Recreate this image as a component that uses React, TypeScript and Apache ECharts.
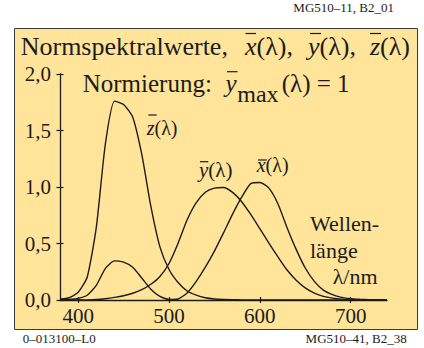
import React, { useEffect, useRef } from "react";
import * as echarts from "echarts";

const wavelengths = [380, 390, 400, 410, 420, 430, 440, 450, 460, 470, 480, 490, 500, 510, 520, 530, 540, 550, 560, 570, 580, 590, 600, 610, 620, 630, 640, 650, 660, 670, 680, 690, 700, 710, 720, 730, 740];
const xBarValues = [0.0014, 0.004, 0.014, 0.042, 0.13, 0.28, 0.346, 0.335, 0.29, 0.195, 0.096, 0.032, 0.005, 0.009, 0.063, 0.165, 0.29, 0.433, 0.594, 0.76, 0.91, 1.03, 1.04, 0.99, 0.85, 0.64, 0.448, 0.283, 0.165, 0.087, 0.047, 0.023, 0.011, 0.006, 0.003, 0.0014, 0.0007];
const yBarValues = [0, 0.0001, 0.0004, 0.0012, 0.004, 0.0116, 0.023, 0.038, 0.06, 0.091, 0.139, 0.208, 0.323, 0.503, 0.71, 0.862, 0.954, 0.99, 0.995, 0.952, 0.87, 0.757, 0.631, 0.503, 0.381, 0.265, 0.175, 0.107, 0.061, 0.032, 0.017, 0.0082, 0.0041, 0.0021, 0.001, 0.0005, 0.0002];
const zBarValues = [0.0065, 0.02, 0.068, 0.204, 0.645, 1.385, 1.76, 1.73, 1.62, 1.29, 0.83, 0.47, 0.27, 0.155, 0.08, 0.043, 0.02, 0.009, 0.004, 0.002, 0.0015, 0.001, 0.001, 0, 0, 0, 0, 0, 0, 0, 0, 0, 0, 0, 0, 0, 0];
const xTickValues = [400, 500, 600, 700];
const yMin = 0;
const yMax = 2;
const yStep = 0.5;

const FONT = "Liberation Serif, Times New Roman, serif";
const INK = "#1c1c1c";

function textAt(x: number, baseline: number, size: number, text: string, italicSize?: number, align: string = "left") {
  const style: any = {
    text,
    fontSize: size,
    fontFamily: FONT,
    fill: INK,
    textAlign: align,
    textVerticalAlign: "middle",
  };
  if (italicSize) {
    style.rich = { i: { fontSize: italicSize, fontFamily: FONT, fontStyle: "italic", fill: INK } };
  }
  return { type: "text", x, y: baseline - 0.3375 * size, z: 20, style };
}

function bar(x1: number, x2: number, y: number) {
  return { type: "line", z: 20, shape: { x1, y1: y, x2, y2: y }, style: { stroke: INK, lineWidth: 1.2 } };
}

export default function App() {
  const ref = useRef<HTMLDivElement>(null);
  useEffect(() => {
    if (!ref.current) return;
    const chart = echarts.init(ref.current, undefined, { renderer: "svg" });
    const mk = (vals: number[]) => wavelengths.map((w, i) => [w, vals[i]]);
    const lineStyle = { color: INK, width: 1.4 };
    const axisCommon = { min: 380, max: 740 };
    chart.setOption({
      animation: false,
      backgroundColor: "#ffffff",
      grid: { left: 60, right: 37, top: 74, bottom: 48 },
      xAxis: [
        {
          type: "value",
          ...axisCommon,
          position: "bottom",
          splitLine: { show: false },
          axisLine: { show: true, lineStyle: { color: INK, width: 1.3 } },
          axisTick: { show: true, length: 3, inside: false, customValues: xTickValues, lineStyle: { color: INK, width: 1.2 } },
          axisLabel: { show: true, customValues: xTickValues, margin: 5, color: INK, fontSize: 21, fontFamily: FONT },
        },
        {
          type: "value",
          ...axisCommon,
          position: "bottom",
          splitLine: { show: false },
          axisLine: { show: false },
          axisTick: { show: true, length: 3, inside: true, customValues: xTickValues, lineStyle: { color: INK, width: 1.2 } },
          axisLabel: { show: false },
        },
      ],
      yAxis: [
        {
          type: "value",
          min: yMin,
          max: yMax,
          interval: yStep,
          position: "left",
          splitLine: { show: false },
          axisLine: { show: true, lineStyle: { color: INK, width: 1.3 } },
          axisTick: { show: true, length: 3.5, inside: false, lineStyle: { color: INK, width: 1.2 } },
          axisLabel: {
            margin: 9,
            color: INK,
            fontSize: 21,
            fontFamily: FONT,
            formatter: (v: number) => v.toFixed(1).replace(".", ","),
          },
        },
        {
          type: "value",
          min: yMin,
          max: yMax,
          interval: yStep,
          position: "left",
          splitLine: { show: false },
          axisLine: { show: false },
          axisTick: { show: true, length: 3.5, inside: true, lineStyle: { color: INK, width: 1.2 } },
          axisLabel: { show: false },
        },
      ],
      series: [
        { type: "line", name: "z", data: mk(zBarValues), showSymbol: false, symbol: "none", smooth: 0.2, lineStyle, z: 3 },
        { type: "line", name: "x", data: mk(xBarValues), showSymbol: false, symbol: "none", smooth: 0.2, lineStyle, z: 3 },
        { type: "line", name: "y", data: mk(yBarValues), showSymbol: false, symbol: "none", smooth: 0.2, lineStyle, z: 3 },
      ],
      graphic: [
        {
          type: "rect",
          z: -10,
          shape: { x: 14.5, y: 28.5, width: 403, height: 301 },
          style: { fill: "#FFE49A", stroke: "#3a3a3a", lineWidth: 1 },
        },
        textAt(394, 12, 13, "MG510–11, B2_01", undefined, "right"),
        textAt(22.7, 343, 13, "0–013100–L0"),
        textAt(406.7, 343, 13, "MG510–41, B2_38", undefined, "right"),
        // title
        textAt(20.7, 55, 26, "Normspektralwerte,"),
        textAt(245, 55, 26, "{i|x}(λ),", 26),
        bar(245.5, 256, 33.5),
        textAt(308, 55, 26, "{i|y}(λ),", 26),
        bar(310, 321, 33.5),
        textAt(370, 55, 26, "{i|z}(λ)", 26),
        bar(370, 381, 33.5),
        // Normierung
        textAt(82.7, 91.7, 25, "Normierung:"),
        textAt(225.5, 91.7, 25, "{i|y}", 25),
        bar(227, 237.5, 71.7),
        textAt(237.3, 101.7, 24, "max"),
        textAt(281.7, 91.7, 25, "(λ) = 1"),
        // curve labels
        textAt(146.7, 135, 20, "{i|z}(λ)", 20),
        bar(148.3, 156.7, 115),
        textAt(199, 177.3, 21, "{i|y}(λ)", 21),
        bar(200, 208.3, 161.7),
        textAt(256.7, 171.7, 20, "{i|x}(λ)", 20),
        bar(258, 266.7, 160),
        // axis title
        textAt(310, 230.7, 22, "Wellen-"),
        textAt(310, 258.3, 22, "länge"),
        textAt(332.7, 284, 22, "λ/nm"),
      ],
    });
    return () => chart.dispose();
  }, []);
  return <div ref={ref} style={{ position: "absolute", left: 0, top: 0, width: 424, height: 348 }} />;
}
